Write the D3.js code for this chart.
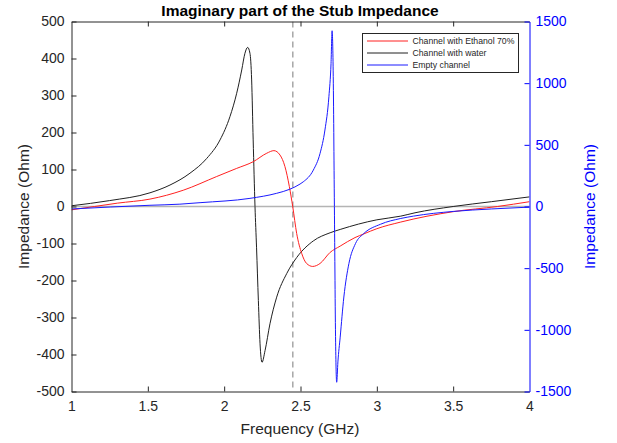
<!DOCTYPE html>
<html>
<head>
<meta charset="utf-8">
<script src="https://cdn.jsdelivr.net/npm/d3@7"></script>
<style>
  body { margin: 0; background: #fff; }
  text { font-family: "Liberation Sans", Arial, Helvetica, sans-serif; }
</style>
</head>
<body>
<div id="chart"></div>
<script>
// values (frequency in GHz, impedance in Ohm)
const waterFreq = [1.0, 1.25, 1.514, 1.645, 1.776, 1.886, 1.973, 2.038, 2.082, 2.115, 2.136, 2.154, 2.169, 2.18, 2.19, 2.202, 2.212, 2.224, 2.235, 2.248, 2.268, 2.30, 2.344, 2.41, 2.475, 2.584, 2.694, 2.76, 3.0, 3.157, 3.25, 3.5, 3.75, 4.0];
const waterImag = [2, 16, 37, 58, 90, 130, 180, 243, 306, 369, 414, 430, 414, 342, 180, 0, -110, -254, -371, -421, -389, -317, -245, -181, -138, -93, -71, -62, -36, -26, -17, 0, 13, 26];

const ethanolFreq = [1.0, 1.15, 1.3, 1.514, 1.732, 1.951, 2.082, 2.19, 2.279, 2.326, 2.366, 2.398, 2.427, 2.449, 2.475, 2.508, 2.54, 2.58, 2.628, 2.694, 2.76, 2.857, 2.915, 3.0, 3.157, 3.5, 3.79, 4.0];
const ethanolImag = [-9, 0, 9, 20, 44, 81, 103, 121, 144, 151, 139, 108, 54, 0, -73, -127, -154, -162, -154, -124, -107, -84, -74, -60, -42, -14, 0, 13];

// empty channel is plotted on the right axis
const emptyFreq = [1.0, 1.514, 1.71, 1.842, 2.169, 2.344, 2.43, 2.497, 2.518, 2.584, 2.628, 2.66, 2.686, 2.700, 2.707, 2.714, 2.722, 2.730, 2.737, 2.745, 2.76, 2.784, 2.817, 2.86, 2.915, 3.024, 3.157, 3.24, 3.5, 3.75, 4.0];
const emptyImag = [-20, 10, 19, 31, 66, 107, 140, 182, 200, 295, 430, 620, 890, 1160, 1425, 1100, 0, -1100, -1425, -1260, -1059, -734, -463, -301, -219, -144, -97, -78, -40, -20, -5];

const xTicks = [1, 1.5, 2, 2.5, 3, 3.5, 4];
const leftTicks = [-500, -400, -300, -200, -100, 0, 100, 200, 300, 400, 500];
const rightTicks = [-1500, -1000, -500, 0, 500, 1000, 1500];
const markerFreq = 2.45;

const legendNames = ["Channel with Ethanol 70%", "Channel with water", "Empty channel"];
const legendColors = ["#ff2020", "#202020", "#1a1aff"];

const width = 617;
const height = 443;
const axisColor = "#262626";
const blue = "#0000ff";

const svg = d3.select("#chart")
    .append("svg")
    .attr("width", width)
    .attr("height", height);

// plot box
const x = d3.scaleLinear().domain([1, 4]).range([71.5, 529.5]);
const yLeft = d3.scaleLinear().domain([-500, 500]).range([391.5, 21.5]);
const yRight = d3.scaleLinear().domain([-1500, 1500]).range([391.5, 21.5]);

svg.append("clipPath").attr("id", "clip")
    .append("rect")
    .attr("x", 71.5).attr("y", 21.5)
    .attr("width", 458).attr("height", 370);

const plot = svg.append("g").attr("clip-path", "url(#clip)");

// zero line and 2.45 GHz marker
plot.append("line")
    .attr("x1", x(1)).attr("x2", x(4))
    .attr("y1", yLeft(0)).attr("y2", yLeft(0))
    .attr("stroke", "#b4b4b4")
    .attr("stroke-width", 1.6);

plot.append("line")
    .attr("x1", x(markerFreq)).attr("x2", x(markerFreq))
    .attr("y1", yLeft(500)).attr("y2", yLeft(-500))
    .attr("stroke", "#7a7a7a")
    .attr("stroke-width", 1)
    .attr("stroke-dasharray", "6,4");

function zip(fs, vs) {
    return fs.map(function (f, i) { return [f, vs[i]]; });
}

const lineLeft = d3.line()
    .x(d => x(d[0]))
    .y(d => yLeft(d[1]))
    .curve(d3.curveMonotoneX);

const lineRight = d3.line()
    .x(d => x(d[0]))
    .y(d => yRight(d[1]))
    .curve(d3.curveMonotoneX);

plot.append("path")
    .attr("d", lineLeft(zip(waterFreq, waterImag)))
    .attr("fill", "none")
    .attr("stroke", legendColors[1])
    .attr("stroke-width", 1);

plot.append("path")
    .attr("d", lineLeft(zip(ethanolFreq, ethanolImag)))
    .attr("fill", "none")
    .attr("stroke", legendColors[0])
    .attr("stroke-width", 1);

plot.append("path")
    .attr("d", lineRight(zip(emptyFreq, emptyImag)))
    .attr("fill", "none")
    .attr("stroke", legendColors[2])
    .attr("stroke-width", 1);

// axes (ticks point inward, matlab style)
const fmt = d => String(d);

const xAxis = svg.append("g")
    .attr("transform", "translate(0," + 391.5 + ")")
    .call(d3.axisBottom(x).tickValues(xTicks).tickFormat(fmt).tickSizeInner(-5).tickSizeOuter(0).tickPadding(10));

const topAxis = svg.append("g")
    .attr("transform", "translate(0," + 21.5 + ")")
    .call(d3.axisTop(x).tickValues(xTicks).tickFormat("").tickSizeInner(-5).tickSizeOuter(0));

const leftAxis = svg.append("g")
    .attr("transform", "translate(" + 71.5 + ",0)")
    .call(d3.axisLeft(yLeft).tickValues(leftTicks).tickFormat(fmt).tickSizeInner(-5).tickSizeOuter(0).tickPadding(7));

const rightAxis = svg.append("g")
    .attr("transform", "translate(" + 529.5 + ",0)")
    .call(d3.axisRight(yRight).tickValues(rightTicks).tickFormat(fmt).tickSizeInner(-5).tickSizeOuter(0).tickPadding(6));

[xAxis, topAxis, leftAxis].forEach(function (g) {
    g.select(".domain").attr("stroke", axisColor);
    g.selectAll(".tick line").attr("stroke", axisColor);
    g.selectAll(".tick text").attr("fill", axisColor).style("font-size", "14px");
});
rightAxis.select(".domain").attr("stroke", blue);
rightAxis.selectAll(".tick line").attr("stroke", blue);
rightAxis.selectAll(".tick text").attr("fill", blue).style("font-size", "14px");

// no tick marks in the box corners
xAxis.selectAll(".tick line").filter(d => d === 1 || d === 4).remove();
topAxis.selectAll(".tick line").filter(d => d === 1 || d === 4).remove();

// titles
svg.append("text")
    .attr("x", 300)
    .attr("y", 16)
    .attr("text-anchor", "middle")
    .style("font-size", "15.5px")
    .style("font-weight", "bold")
    .attr("fill", "#000")
    .text("Imaginary part of the Stub Impedance");

svg.append("text")
    .attr("x", 300)
    .attr("y", 434)
    .attr("text-anchor", "middle")
    .style("font-size", "15.5px")
    .attr("fill", axisColor)
    .text("Frequency (GHz)");

svg.append("text")
    .attr("transform", "translate(28.5," + 206.5 + ") rotate(-90)")
    .attr("text-anchor", "middle")
    .style("font-size", "15.5px")
    .attr("fill", axisColor)
    .text("Impedance (Ohm)");

svg.append("text")
    .attr("transform", "translate(595," + 206.5 + ") rotate(-90)")
    .attr("text-anchor", "middle")
    .style("font-size", "15.5px")
    .attr("fill", blue)
    .text("Impedance (Ohm)");

// legend
const legend = svg.append("g");
legend.append("rect")
    .attr("x", 362.5).attr("y", 33.5)
    .attr("width", 156).attr("height", 39)
    .attr("fill", "#fff")
    .attr("stroke", axisColor)
    .attr("stroke-width", 1);

for (let i = 0; i < legendNames.length; i++) {
    const rowY = 41 + i * 12;
    legend.append("line")
        .attr("x1", 367).attr("x2", 408)
        .attr("y1", rowY).attr("y2", rowY)
        .style("stroke", legendColors[i])
        .style("stroke-width", 1);
    legend.append("text")
        .attr("x", 412.5)
        .attr("y", rowY)
        .attr("dy", "0.33em")
        .style("font-size", "8.7px")
        .attr("fill", axisColor)
        .text(legendNames[i]);
}
</script>
</body>
</html>
